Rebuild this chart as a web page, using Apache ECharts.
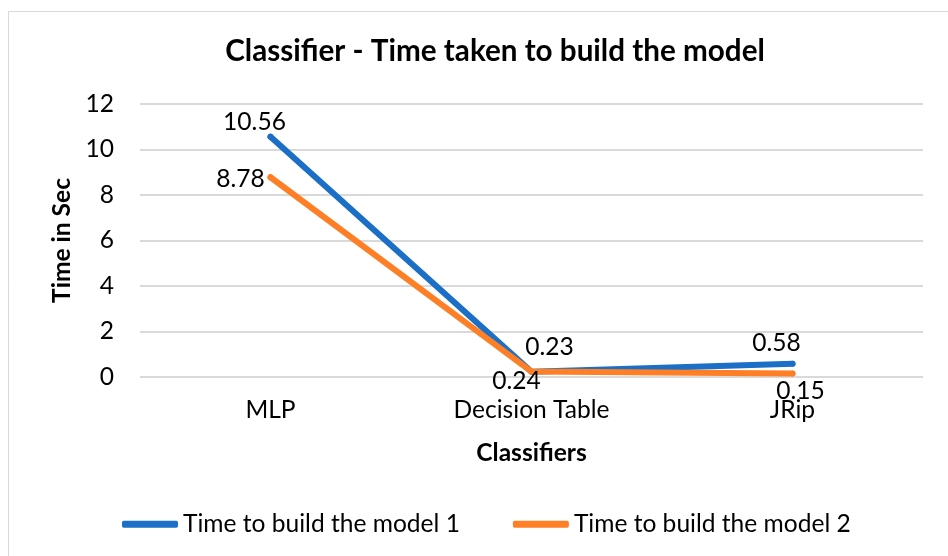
<!DOCTYPE html>
<html><head><meta charset="utf-8">
<script src="https://cdn.jsdelivr.net/npm/echarts@6/dist/echarts.min.js"></script>
<style>html,body{margin:0;padding:0;background:#fff}#c{width:948px;height:556px}</style>
</head><body><div id="c"></div>
<script>
const categories = ["MLP", "Decision Table", "JRip"];
const series1Name = "Time to build the model 1";
const series2Name = "Time to build the model 2";
const series1 = [10.56, 0.23, 0.58];
const series2 = [8.78, 0.24, 0.15];
const yTicks = { min: 0, max: 12, interval: 2 };
const titleText = "Classifier - Time taken to build the model";

// label offsets (style only) relative to each point
const s1LabelOffsets = [[-16, -15], [18, -25], [-16, -21]];
const s2LabelOffsets = [[-30, 2], [-15, 10], [8, 17]];

const FONT = "Lato";
const cv = document.createElement('canvas').getContext('2d');
function fitSize(text, target, weight) {
  cv.font = (weight || 'normal') + ' 100px ' + FONT;
  return 100 * target / cv.measureText(text).width;
}
const base = fitSize(series1Name, 277);
const titleSize = fitSize(titleText, 540, 'bold');

const BLUE = '#1b6fc6', ORANGE = '#ff7f27';
const chart = echarts.init(document.getElementById('c'));
const lbl = (off) => ({ show: true, position: 'inside', offset: off, fontFamily: FONT, fontSize: base, color: '#000' });
chart.setOption({
  animation: false,
  textStyle: { fontFamily: FONT },
  graphic: [{ type: 'rect', shape: { x: 8.5, y: 11.5, width: 960, height: 600 }, style: { fill: 'none', stroke: '#d9d9d9', lineWidth: 1 } }],
  title: { text: titleText, left: 495, textAlign: 'center', top: 51 - titleSize / 2, padding: 0,
    textStyle: { fontFamily: FONT, fontSize: titleSize, fontWeight: 'bold', color: '#000' } },
  grid: { left: 140, right: 25, top: 104, bottom: 179 },
  legend: { left: 122, top: 524 - base / 2, padding: 0, icon: 'roundRect', itemWidth: 56, itemHeight: 7, itemGap: 53,
    textStyle: { fontFamily: FONT, fontSize: base, color: '#000' },
    data: [{ name: series1Name, itemStyle: { color: BLUE } }, { name: series2Name, itemStyle: { color: ORANGE } }] },
  xAxis: { type: 'category', data: categories, boundaryGap: true,
    axisLine: { show: false }, axisTick: { show: false },
    axisLabel: { fontFamily: FONT, fontSize: base, color: '#000', margin: 33 - base / 2 },
    name: 'Classifiers', nameLocation: 'middle', nameGap: 76 - base / 2,
    nameTextStyle: { fontFamily: FONT, fontSize: base, fontWeight: 'bold', color: '#000' } },
  yAxis: { type: 'value', min: yTicks.min, max: yTicks.max, interval: yTicks.interval,
    axisLine: { show: false }, axisTick: { show: false },
    axisLabel: { fontFamily: FONT, fontSize: base, color: '#000', margin: 26 },
    splitLine: { lineStyle: { color: '#d9d9d9', width: 2 } },
    name: 'Time in Sec', nameLocation: 'middle', nameGap: 140 - 62 - base / 2, nameRotate: 90,
    nameTextStyle: { fontFamily: FONT, fontSize: base, fontWeight: 'bold', color: '#000' } },
  series: [
    { name: series1Name, type: 'line', data: series1.map((v, i) => ({ value: v, label: lbl(s1LabelOffsets[i]) })),
      symbol: 'circle', symbolSize: 6, lineStyle: { color: BLUE, width: 6, cap: 'round', join: 'round' }, itemStyle: { color: BLUE }, z: 2 },
    { name: series2Name, type: 'line', data: series2.map((v, i) => ({ value: v, label: lbl(s2LabelOffsets[i]) })),
      symbol: 'circle', symbolSize: 6, lineStyle: { color: ORANGE, width: 6, cap: 'round', join: 'round' }, itemStyle: { color: ORANGE }, z: 3 }
  ]
});
</script></body></html>
